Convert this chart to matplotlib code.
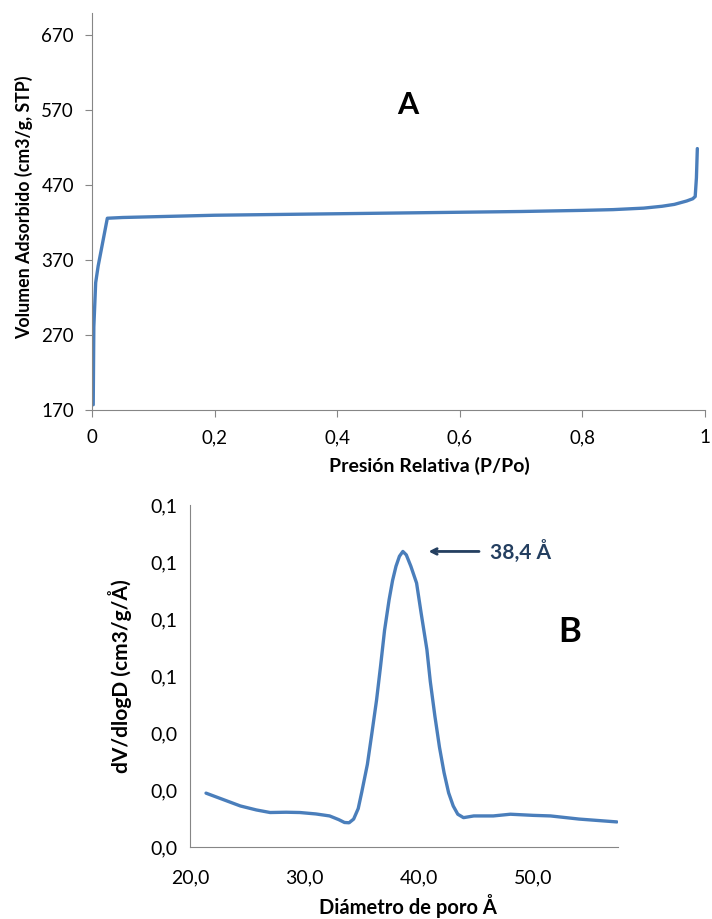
import matplotlib
matplotlib.use('Agg')
import matplotlib.pyplot as plt
from matplotlib.ticker import FuncFormatter

plt.rcParams['font.family'] = ['Lato', 'DejaVu Sans']

# isoterma (panel A)
presion = [0.002, 0.0025, 0.003, 0.006, 0.01, 0.025, 0.05, 0.1, 0.2, 0.3,
           0.4, 0.5, 0.6, 0.7, 0.8, 0.85, 0.9, 0.93, 0.95, 0.97, 0.98,
           0.984, 0.986, 0.9875]
volumen = [177, 230, 281, 340, 362, 426, 427, 428, 430, 431,
           432, 433, 434, 435, 436.5, 437.5, 439.5, 442, 444.5, 449, 452,
           455, 480, 519]

# distribucion de poro (panel B)
diametro = [21.4, 22.8, 24.4, 25.8, 27.0, 28.4, 29.6, 31.0, 32.2, 33.0, 33.5,
            33.9, 34.3, 34.7, 35.0, 35.5, 35.9, 36.3, 36.65, 37.0, 37.4,
            37.7, 38.0, 38.3, 38.6, 38.9, 39.3, 39.8, 40.2, 40.7, 41.0, 41.4,
            41.8, 42.2, 42.6, 43.0, 43.4, 43.9, 44.8, 46.5, 48.0, 50.0, 51.5,
            54.0, 57.3]
dvdlogd = [0.0189, 0.0168, 0.0144, 0.0130, 0.0121, 0.0122, 0.0121, 0.0116,
           0.0109, 0.0096, 0.0086, 0.0085, 0.0098, 0.0135, 0.0191, 0.0290,
           0.0401, 0.0515, 0.0634, 0.0760, 0.0868, 0.0935, 0.0985, 0.1020,
           0.1037, 0.1025, 0.0985, 0.0926, 0.0820, 0.0693, 0.0580, 0.0459,
           0.0350, 0.0261, 0.0190, 0.0144, 0.0115, 0.0103, 0.0109, 0.0109,
           0.0115, 0.0111, 0.0109, 0.0098, 0.0088]

azul = '#4a7ebb'
gris = '#868686'
marino = '#243f60'

fig = plt.figure(figsize=(7.12, 9.19), dpi=100)

def coma(fmt):
    return FuncFormatter(lambda v, p: (fmt % v).replace('.', ','))

# ---- A ----
ax1 = fig.add_axes([92/712, 1 - 410/919, 613/712, 397/919])
ax1.plot(presion, volumen, color=azul, linewidth=2.4,
         solid_capstyle='round', solid_joinstyle='round')
ax1.set_xlim(0, 1)
ax1.set_ylim(170, 700)
ax1.set_xticks([0, 0.2, 0.4, 0.6, 0.8, 1])
ax1.set_yticks([170, 270, 370, 470, 570, 670])
ax1.xaxis.set_major_formatter(FuncFormatter(lambda v, p: ('%g' % v).replace('.', ',')))
for s in ['top', 'right']:
    ax1.spines[s].set_visible(False)
for s in ['left', 'bottom']:
    ax1.spines[s].set_color(gris)
ax1.tick_params(direction='out', length=5, color=gris, labelsize=13.5)
ax1.tick_params(axis='x', pad=9)
ax1.tick_params(axis='y', pad=8)
ax1.set_xlabel('Presión Relativa (P/Po)', fontsize=14, fontweight='bold')
ax1.xaxis.set_label_coords(0.551, -0.118)
ax1.set_ylabel('Volumen Adsorbido (cm3/g, STP)', fontsize=12.8, fontweight='bold')
ax1.yaxis.set_label_coords(-0.096, 0.51)
ax1.text(0.515, 0.768, 'A', transform=ax1.transAxes, fontsize=22,
         fontweight='bold', ha='center', va='center')

# ---- B ----
ax2 = fig.add_axes([190/712, 1 - 847/919, 428/712, 342/919])
ax2.plot(diametro, dvdlogd, color=azul, linewidth=2.4,
         solid_capstyle='round', solid_joinstyle='round')
ax2.set_xlim(20, 57.4)
ax2.set_ylim(0, 0.12)
ax2.set_xticks([20, 30, 40, 50])
ax2.set_yticks([0, 0.02, 0.04, 0.06, 0.08, 0.10, 0.12])
ax2.xaxis.set_major_formatter(coma('%.1f'))
ax2.yaxis.set_major_formatter(coma('%.1f'))
for s in ['top', 'right']:
    ax2.spines[s].set_visible(False)
for s in ['left', 'bottom']:
    ax2.spines[s].set_color(gris)
ax2.tick_params(length=0, labelsize=14)
ax2.tick_params(axis='x', pad=16)
ax2.tick_params(axis='y', pad=9)
ax2.set_xlabel('Diámetro de poro Å', fontsize=14.5, fontweight='bold')
ax2.xaxis.set_label_coords(0.509, -0.138)
ax2.set_ylabel('dV/dlogD (cm3/g/Å)', fontsize=15, fontweight='bold')
ax2.yaxis.set_label_coords(-0.135, 0.5)
ax2.annotate('', xy=(40.6, 0.1037), xytext=(45.5, 0.1037),
             arrowprops=dict(arrowstyle='->', color=marino, lw=2))
ax2.text(46.2, 0.1037, '38,4 Å', color=marino, fontsize=15,
         fontweight='bold', va='center', ha='left')
ax2.text(0.888, 0.629, 'B', transform=ax2.transAxes, fontsize=25,
         fontweight='bold', ha='center', va='center')

fig.savefig('out.png', dpi=100)
